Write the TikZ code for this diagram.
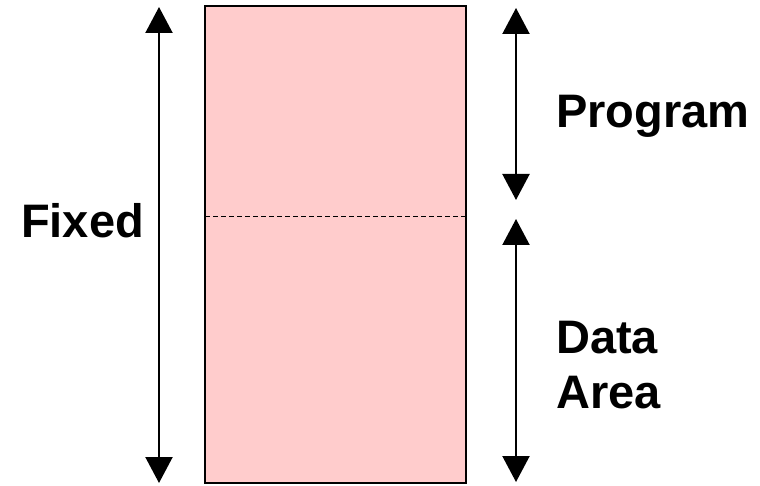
\documentclass[tikz,border=0pt]{standalone}
\usepackage{fontspec}
\setmainfont{Liberation Sans}
\usetikzlibrary{arrows.meta}
\begin{document}
\begin{tikzpicture}[x=1pt,y=-1pt,
  dim/.style={line width=2.2pt,{Triangle[width=27pt,length=26pt]}-{Triangle[width=27pt,length=26pt]}},
  lbl/.style={font=\fontsize{47}{54}\selectfont\bfseries,inner sep=0pt}]
\useasboundingbox (0,0) rectangle (760,486);
\coordinate (tl) at (205,6);
\coordinate (br) at (466,483);
\filldraw[fill={rgb,255:red,255;green,204;blue,204},draw=black,line width=1.5pt] (tl) rectangle (br);
\coordinate (dl) at (205,217);
\coordinate (dr) at (466,217);
\draw[line width=1pt,dash pattern=on 5pt off 3pt] (dl) -- (dr);
\coordinate (ft) at (159,7);
\coordinate (fb) at (159,483);
\draw[dim] (ft) -- (fb);
\coordinate (pt) at (516,8);
\coordinate (pb) at (516,200);
\draw[dim] (pt) -- (pb);
\coordinate (dt) at (516,219);
\coordinate (db) at (516,482);
\draw[dim] (dt) -- (db);
\node[lbl,anchor=base west] (fixed) at (21,238) {Fixed};
\node[lbl,anchor=base west] (prog) at (556,128) {Program};
\node[lbl,anchor=base west] (data) at (556,353) {Data};
\node[lbl,anchor=base west] (area) at (556,408) {Area};
\end{tikzpicture}
\end{document}
